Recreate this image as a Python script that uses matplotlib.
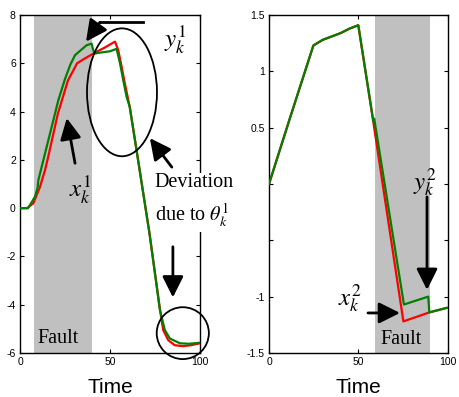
import numpy as np
import matplotlib
matplotlib.use('Agg')
import matplotlib.pyplot as plt
from matplotlib.patches import Ellipse

plt.rcParams['font.family'] = ['Liberation Sans', 'DejaVu Sans']
plt.rcParams['mathtext.fontset'] = 'stix'
plt.rcParams['axes.unicode_minus'] = False

# left panel: state x_k^1 (red) and output y_k^1 (green)
t1_red = [0, 4, 7.4, 11.1, 13.9, 15.6, 21, 26.7, 29.6, 31.7, 36, 42.6, 47, 52.8, 54.6,
          56.5, 58.3, 61, 64.8, 72, 77.8, 79.6, 82.4, 86, 90.7, 95, 100]
x1 = [0, 0, 0.2, 0.88, 1.57, 2.1, 3.9, 5.3, 5.7, 6.0, 6.2, 6.48, 6.65, 6.9, 6.55,
      5.86, 5.16, 4.2, 2.4, -1.05, -4.2, -5.05, -5.47, -5.68, -5.72, -5.68, -5.6]
t1_green = [0, 4.5, 8.3, 9.8, 10.2, 12, 15.7, 21.3, 25, 28, 30.6, 37, 39.8, 41.2, 45, 50,
            53.7, 55.6, 57.4, 59.3, 61, 64.8, 72, 77.8, 80.5, 83.3, 88.9, 94, 100]
y1 = [0, 0, 0.47, 0.85, 1.16, 1.7, 2.8, 4.47, 5.35, 5.95, 6.34, 6.75, 6.82, 6.4, 6.45, 6.5,
      6.6, 6.0, 5.3, 4.6, 4.2, 2.4, -1.05, -4.22, -5.05, -5.4, -5.6, -5.62, -5.58]

# right panel: state x_k^2 (red) and output y_k^2 (green)
t2_red = [0, 12, 24.8, 30, 35, 40, 45, 49.9, 58.3, 75.1, 89.6, 99.3]
x2 = [0, 0.6, 1.23, 1.28, 1.31, 1.34, 1.38, 1.41, 0.55, -1.22, -1.14, -1.1]
t2_green = [0, 12, 24.8, 30, 35, 40, 45, 49.9, 58.3, 58.8, 75.4, 89, 89.6, 99.3]
y2 = [0, 0.6, 1.23, 1.28, 1.31, 1.34, 1.38, 1.41, 0.56, 0.58, -1.07, -1.0, -1.14, -1.1]

fault1 = (8, 40)
fault2 = (59, 90)

RED = '#ff0000'
GREEN = '#008000'
GREY = '#c0c0c0'

fig = plt.figure(figsize=(4.6, 3.97), dpi=100)
ax1 = fig.add_axes([0.0435, 0.111, 0.391, 0.851])
ax2 = fig.add_axes([0.5848, 0.111, 0.389, 0.851])


def style(ax):
    ax.tick_params(direction='in', top=True, right=True, labelsize=7.5,
                   length=3, width=0.8, pad=3)
    for s in ax.spines.values():
        s.set_linewidth(1.0)
    ax.set_xlabel('Time', fontsize=15, labelpad=8)


def arrow(ax, tail, head, ms=16):
    ax.annotate('', xy=head, xytext=tail,
                arrowprops=dict(arrowstyle='-|>,head_length=0.8,head_width=0.4',
                                lw=2, color='k', mutation_scale=ms,
                                shrinkA=0, shrinkB=0),
                annotation_clip=False)


serif = ['Liberation Serif', 'DejaVu Serif']

# ---- left ----
ax1.axvspan(*fault1, color=GREY, lw=0, zorder=0)
ax1.plot(t1_red, x1, color=RED, lw=1.6, zorder=2)
ax1.plot(t1_green, y1, color=GREEN, lw=1.6, zorder=3)
ax1.set_xlim(0, 100)
ax1.set_ylim(-6, 8)
ax1.set_xticks([0, 50, 100])
ax1.set_yticks(np.arange(-6, 9, 2))
style(ax1)

ax1.add_patch(Ellipse((56.7, 4.8), 38.9, 5.3, fill=False, lw=1.3, color='k',
                      zorder=4, clip_on=False))
ax1.add_patch(Ellipse((90.5, -5.18), 29, 2.15, fill=False, lw=1.3, color='k',
                      zorder=4, clip_on=False))
ax1.plot([68.3, 44.4], [7.7, 7.7], color='k', lw=2, zorder=5)
arrow(ax1, (44.4, 7.7), (36.7, 6.9))
arrow(ax1, (84.4, 1.7), (72.2, 2.9))
arrow(ax1, (85, -1.6), (85, -3.7))
arrow(ax1, (30.6, 1.86), (26, 3.73))
ax1.text(86, 6.96, r'$y_k^1$', fontsize=18, ha='center', va='center')
ax1.text(33.3, 0.75, r'$x_k^1$', fontsize=18, ha='center', va='center')
ax1.text(75, 0.3, 'Deviation\ndue to ' + r'$\theta_k^1$', fontsize=14.5,
         family=serif, ha='left', va='center', linespacing=1.5, zorder=6,
         bbox=dict(facecolor='white', edgecolor='none', pad=2))
ax1.text(21.4, -5.4, 'Fault', fontsize=14.5, family=serif, ha='center', va='center')

# ---- right ----
ax2.axvspan(*fault2, color=GREY, lw=0, zorder=0)
ax2.plot(t2_red, x2, color=RED, lw=1.6, zorder=2)
ax2.plot(t2_green, y2, color=GREEN, lw=1.6, zorder=3)
ax2.set_xlim(0, 100)
ax2.set_ylim(-1.5, 1.5)
ax2.set_xticks([0, 50, 100])
ax2.set_yticks([-1.5, -1, -0.5, 0, 0.5, 1, 1.5])
ax2.set_yticklabels(['-1.5', '-1', '', '', '0.5', '1', '1.5'])
style(ax2)

arrow(ax2, (88.3, -0.115), (88.3, -0.94))
arrow(ax2, (55.3, -1.145), (73.2, -1.145))
ax2.text(87, 0.02, r'$y_k^2$', fontsize=18, ha='center', va='center')
ax2.text(45, -1.01, r'$x_k^2$', fontsize=18, ha='center', va='center')
ax2.text(74, -1.385, 'Fault', fontsize=14.5, family=serif, ha='center', va='center')

fig.savefig('out.png', dpi=100)
